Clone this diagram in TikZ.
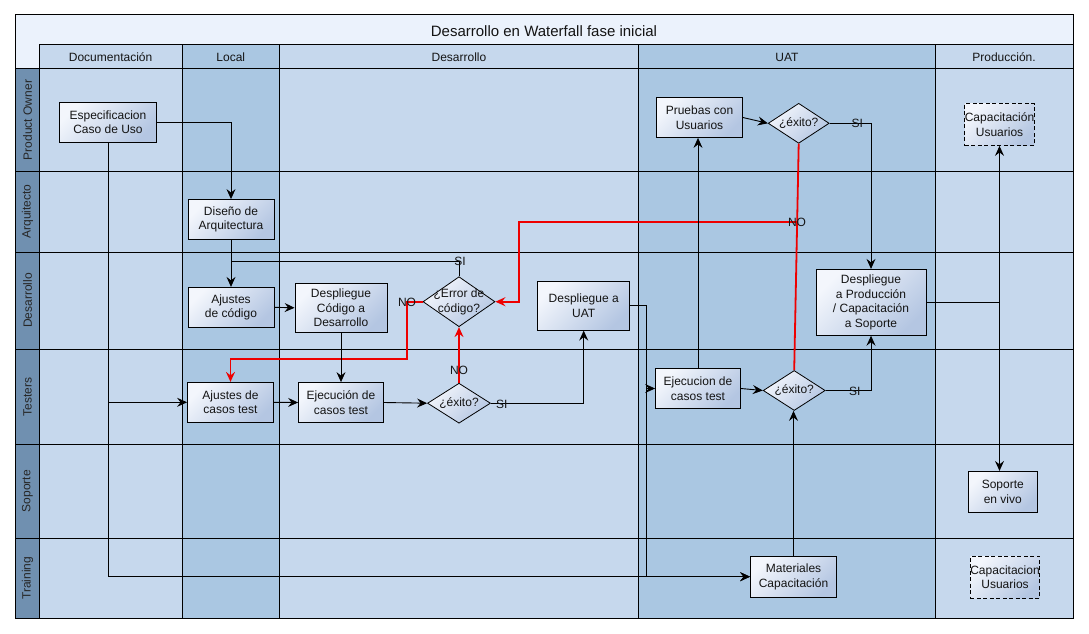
\documentclass[tikz,border=0pt]{standalone}
\usepackage{fontspec}
\setmainfont{Liberation Sans}
\usetikzlibrary{shapes.geometric,arrows.meta,calc}
\definecolor{titlebg}{RGB}{235,242,252}
\definecolor{lightcol}{RGB}{198,216,237}
\definecolor{darkcol}{RGB}{170,199,226}
\definecolor{lanebg}{RGB}{112,144,176}
\definecolor{boxL}{RGB}{243,246,252}
\definecolor{boxR}{RGB}{180,198,226}
\definecolor{redl}{RGB}{238,0,0}
\definecolor{ink}{RGB}{20,20,20}
\newcommand\bfnt{\fontsize{12}{14.7}\selectfont}
\begin{document}
\begin{tikzpicture}[x=1pt,y=-1pt,
  grid/.style={draw=black,line width=1pt},
  box/.style={draw=black,line width=0.8pt,left color=boxL,right color=boxR,shading angle=45,
    inner sep=0pt,align=center,font=\bfnt,text=ink},
  dbox/.style={box,dash pattern=on 4pt off 2.5pt},
  dia/.style={diamond,draw=black,line width=0.8pt,left color=boxL,right color=boxR,shading angle=45,inner sep=0pt},
  lab/.style={font=\bfnt,inner sep=0pt,align=center,text=ink},
  hdr/.style={font=\bfnt,inner sep=0pt,text=ink},
  lanelab/.style={font=\bfnt,inner sep=0pt,text=black!85,rotate=90},
  plainline/.style={draw=black,line width=0.9pt},
  conn/.style={plainline,-{Stealth[length=10pt,width=9pt,inset=3.5pt]}},
  rline/.style={color=redl,draw=redl,line width=1.8pt},
  rconn/.style={rline,-{Stealth[length=10pt,width=9pt,inset=3.5pt]}}
]
\useasboundingbox (0,0) rectangle (1089,634);
% backgrounds
\fill[titlebg] (15,15) rectangle (1073,45);
\fill[titlebg] (15,45) rectangle (39,69);
\fill[lanebg] (15,69) rectangle (39,618.3);
\fill[lightcol] (39,45) rectangle (182.3,618.3);
\fill[darkcol] (182.3,45) rectangle (279.3,618.3);
\fill[lightcol] (279.3,45) rectangle (638.7,618.3);
\fill[darkcol] (638.7,45) rectangle (935.3,618.3);
\fill[lightcol] (935.3,45) rectangle (1073,618.3);
% grid
\draw[grid] (15,15) rectangle (1073,618.3);
\draw[grid] (39,45) -- (1073,45);
\draw[grid] (15,69) -- (1073,69);
\foreach \xx in {39,182.3,279.3,638.7,935.3}{\draw[grid] (\xx,45) -- (\xx,618.3);}
\foreach \yy in {171,252,349,444.3,538.3}{\draw[grid] (15,\yy) -- (1073,\yy);}
% title and headers
\node[font=\fontsize{15}{18}\selectfont,inner sep=0pt,text=ink] (title) at (544,31) {Desarrollo en Waterfall fase inicial};
\node[hdr] (hDoc) at (110.6,57.5) {Documentación};
\node[hdr] (hLoc) at (230.8,57.5) {Local};
\node[hdr] (hDes) at (459,57.5) {Desarrollo};
\node[hdr] (hUAT) at (787,57.5) {UAT};
\node[hdr] (hPro) at (1004,57.5) {Producción.};
% lane labels
\node[lanelab] (lPO) at (27.5,120) {Product Owner};
\node[lanelab] (lAr) at (27.5,211.5) {Arquitecto};
\node[lanelab] (lDe) at (27.5,300.5) {Desarrollo};
\node[lanelab] (lTe) at (27.5,396.7) {Testers};
\node[lanelab] (lSo) at (27.5,491.3) {Soporte};
\node[lanelab] (lTr) at (27.5,578.3) {Training};
% boxes
\node[box,minimum width=97pt,minimum height=40pt] (espec) at (108,122.3) {Especificacion\\Caso de Uso};
\node[box,minimum width=86pt,minimum height=40pt] (diseno) at (231,219.5) {Diseño de\\Arquitectura};
\node[box,minimum width=86pt,minimum height=40pt] (ajcod) at (231,307.3) {Ajustes\\de código};
\node[box,minimum width=92pt,minimum height=49pt] (despcod) at (341,307.8) {Despliegue\\Código a\\Desarrollo};
\node[dia,minimum width=72pt,minimum height=50pt,label={[lab]center:{¿Error de\\código?}}] (error) at (459,301.7) {};
\node[box,minimum width=92pt,minimum height=49pt] (despuat) at (583.7,305.7) {Despliegue a\\UAT};
\node[box,minimum width=86pt,minimum height=40pt] (pruebas) at (699.5,117.5) {Pruebas con\\Usuarios};
\node[dia,minimum width=61pt,minimum height=40pt,label={[lab]center:{¿éxito?}}] (exitoP) at (798.7,123.3) {};
\node[dbox,minimum width=69pt,minimum height=42pt] (capP) at (999.5,124.5) {Capacitación\\Usuarios};
\node[box,minimum width=110pt,minimum height=66pt] (despprod) at (871,302.3) {Despliegue\\a Producción\\/ Capacitación\\a Soporte};
\node[box,minimum width=86pt,minimum height=40pt] (ajcas) at (230.5,402.3) {Ajustes de\\casos test};
\node[box,minimum width=85pt,minimum height=40pt] (ejec) at (341,402.5) {Ejecución de\\casos test};
\node[dia,minimum width=63pt,minimum height=40pt,label={[lab]center:{¿éxito?}}] (exitoD) at (459,403.2) {};
\node[box,minimum width=85pt,minimum height=40pt] (ejecU) at (698,388.5) {Ejecucion de\\casos test};
\node[dia,minimum width=62pt,minimum height=40pt,label={[lab]center:{¿éxito?}}] (exitoU) at (794.2,390.5) {};
\node[box,minimum width=69pt,minimum height=41pt] (soporte) at (1002.8,491.8) {Soporte\\en vivo};
\node[box,minimum width=86pt,minimum height=41pt] (mater) at (793.5,576.7) {Materiales\\Capacitación};
\node[dbox,minimum width=69pt,minimum height=42pt] (capT) at (1005,577.3) {Capacitacion\\Usuarios};
% helper coordinates
\coordinate (siJ) at (231,261.3);
\coordinate (r1) at (407,359);
\coordinate (noU) at (796.5,222);
\coordinate (rc) at (519,222);
\coordinate (k2) at (646.3,576.7);
% red connectors
\draw[rline] (exitoP.south) -- (exitoU.north);
\draw[rconn] (noU) -- (rc) |- (error.east);
\draw[rconn] (error.west) -| (r1) -| (ajcas.north);
\draw[rconn] (exitoD.north) -- (error.south);
% black connectors
\draw[conn] (espec.east) -| (diseno.north);
\draw[conn] (diseno.south) -- (ajcod.north);
\draw[plainline] (error.north) |- (siJ);
\draw[conn] (ajcod.east) -- (despcod.west);
\draw[conn] (despcod.south) -- (ejec.north);
\draw[conn] (ajcas.east) -- (ejec.west);
\draw[conn] (ejec.east) -- (exitoD.west);
\draw[conn] (exitoD.east) -| (despuat.south);
\draw[conn] (despuat.east) -| (k2) -- (mater.west);
\draw[conn] (k2 |- ejecU.west) -- (ejecU.west);
\draw[conn] (espec.south) |- (mater.west);
\draw[conn] (espec.south |- ajcas.west) -- (ajcas.west);
\draw[conn] (ejecU.north) -- (ejecU.north |- pruebas.south);
\draw[conn] (pruebas.east) -- (exitoP.west);
\draw[conn] (exitoP.east) -| (despprod.north);
\draw[conn] (exitoU.east) -| (despprod.south);
\draw[conn] (mater.north) -- (mater.north |- exitoU.south);
\draw[conn] (ejecU.east) -- (exitoU.west);
\draw[conn] (despprod.east) -| (capP.south);
\coordinate (sj) at (despprod.east -| capP.south);
\draw[conn] (sj) -- (sj |- soporte.north);
% connector labels
\node[lab] (siE) at (460,261.3) {SI};
\node[lab] (noE) at (407,302.5) {NO};
\node[lab] (noD) at (459,370) {NO};
\node[lab] (siD) at (501.7,404) {SI};
\node[lab] (noUl) at (797,222) {NO};
\node[lab] (siP) at (857.3,123.3) {SI};
\node[lab] (siU) at (854.7,391) {SI};
\end{tikzpicture}
\end{document}
